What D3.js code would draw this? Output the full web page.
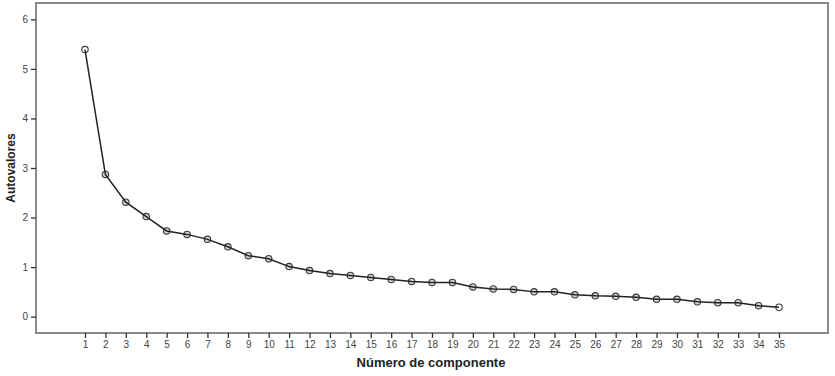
<!DOCTYPE html>
<html><head><meta charset="utf-8">
<script src="https://cdn.jsdelivr.net/npm/d3@7"></script>
<style>body{margin:0;background:#fff;}svg{display:block;}</style>
</head><body>
<script>
const components = d3.range(1, 36);
const eigenvalues = [5.39, 2.87, 2.31, 2.02, 1.73, 1.66, 1.56, 1.41, 1.23, 1.17,
  1.01, 0.93, 0.87, 0.83, 0.79, 0.75, 0.71, 0.69, 0.69, 0.60,
  0.56, 0.55, 0.50, 0.50, 0.44, 0.42, 0.41, 0.39, 0.35, 0.35,
  0.30, 0.28, 0.28, 0.22, 0.19];
const yTicks = [0, 1, 2, 3, 4, 5, 6];
const xTitle = "Número de componente";
const yTitle = "Autovalores";

(function () {
const W = 835, H = 376;
const mLeft = 36, mRight = 828, mTop = 3, mBottom = 333;
const svg = d3.select("body").append("svg").attr("width", W).attr("height", H);

const x = d3.scaleLinear().domain([-1.4, 37.4]).range([mLeft, mRight]);
const y = d3.scaleLinear().domain([-0.33, 6.33]).range([mBottom, mTop]);

// frame
svg.append("rect").attr("x", mLeft).attr("y", mTop).attr("width", mRight - mLeft).attr("height", mBottom - mTop)
  .attr("fill", "none").attr("stroke", "#8a8a8a").attr("stroke-width", 2);

const font = "Arial, 'Liberation Sans', sans-serif";

const xAxis = svg.append("g").attr("transform", `translate(0,${mBottom})`)
  .call(d3.axisBottom(x).tickValues(components).tickFormat(d3.format("d")).tickSize(5).tickPadding(3));
xAxis.select(".domain").remove();
xAxis.selectAll("line").attr("stroke", "#333").attr("stroke-width", 1.3);
xAxis.selectAll("text").attr("fill", "#444").style("font-family", font).style("font-size", "10px");

const yAxis = svg.append("g").attr("transform", `translate(${mLeft},0)`)
  .call(d3.axisLeft(y).tickValues(yTicks).tickFormat(d3.format("d")).tickSize(5).tickPadding(3));
yAxis.select(".domain").remove();
yAxis.selectAll("line").attr("stroke", "#333").attr("stroke-width", 1.3);
yAxis.selectAll("text").attr("fill", "#444").style("font-family", font).style("font-size", "10px");

// markers under the line
svg.append("g").selectAll("circle").data(eigenvalues).join("circle")
  .attr("cx", (d, i) => x(components[i])).attr("cy", d => y(d)).attr("r", 3.2)
  .attr("fill", (d, i) => (i === 0 || i === eigenvalues.length - 1) ? "#fff" : "#d4d4d4")
  .attr("stroke", "#3a3a3a").attr("stroke-width", 1.1);

// line
const line = d3.line().x((d, i) => x(components[i])).y(d => y(d));
svg.append("path").datum(eigenvalues).attr("d", line)
  .attr("fill", "none").attr("stroke", "#222").attr("stroke-width", 1.5);

// titles
svg.append("text").attr("x", 431).attr("y", 367).attr("text-anchor", "middle")
  .style("font-family", font).style("font-size", "13px").style("font-weight", "bold").attr("fill", "#222")
  .text(xTitle);
svg.append("text").attr("transform", `translate(15,${(mTop + mBottom) / 2}) rotate(-90)`).attr("text-anchor", "middle")
  .style("font-family", font).style("font-size", "12px").style("font-weight", "bold").attr("fill", "#222")
  .text(yTitle);
})();
</script>
</body></html>
